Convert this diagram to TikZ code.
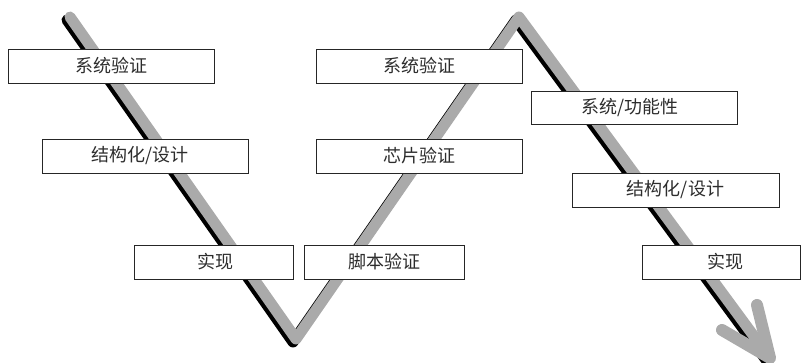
\documentclass[tikz,border=0pt]{standalone}
\usepackage{fontspec}
\newfontfamily\cjk{Noto Sans CJK SC}
\definecolor{pathgray}{RGB}{170,170,170}
\definecolor{boxtext}{RGB}{45,45,45}
\begin{document}
\begin{tikzpicture}[x=1pt,y=-1pt,
  box/.style={draw=black!85, line width=0.9pt, fill=white, inner sep=0pt,
    minimum height=34pt, font=\cjk\fontsize{18}{20}\selectfont, text=boxtext},
  vline/.style={line width=11pt, line join=round, line cap=round},
  shadowshift/.style={shift={(-3,3)}}]
\useasboundingbox (0,0) rectangle (801,363);
% path vertices
\coordinate (a) at (70,17);
\coordinate (b) at (296,339);
\coordinate (c) at (519,17);
\coordinate (d) at (770,358);
\coordinate (e1) at (722,330);
\coordinate (e2) at (757,305);
% shadow
\draw[vline, black] ([shadowshift]a) -- ([shadowshift]b) -- ([shadowshift]c) -- ([shadowshift]d);
% main path
\draw[vline, pathgray] (a) -- (b) -- (c) -- (d);
% arrowhead
\draw[pathgray, line width=12pt, line join=round, line cap=round] (e1) -- (d) -- (e2);
% boxes
\node[box, minimum width=206pt] (l1) at (111,66) {系统验证};
\node[box, minimum width=206pt] (l2) at (145,156) {\hspace*{-10pt}结构化/设计};
\node[box, minimum width=159pt] (l3) at (213.5,262) {\hspace*{3pt}实现};
\node[box, minimum width=160pt] (m1) at (384,262) {脚本验证};
\node[box, minimum width=206pt] (m2) at (419,156) {芯片验证};
\node[box, minimum width=206pt] (m3) at (419,66) {系统验证};
\node[box, minimum width=206pt, minimum height=33pt] (r1) at (634,107.5) {\hspace*{-8pt}系统/功能性};
\node[box, minimum width=207pt] (r2) at (675.5,190) {结构化/设计};
\node[box, minimum width=158pt] (r3) at (721,262) {\hspace*{8pt}实现};
\end{tikzpicture}
\end{document}
